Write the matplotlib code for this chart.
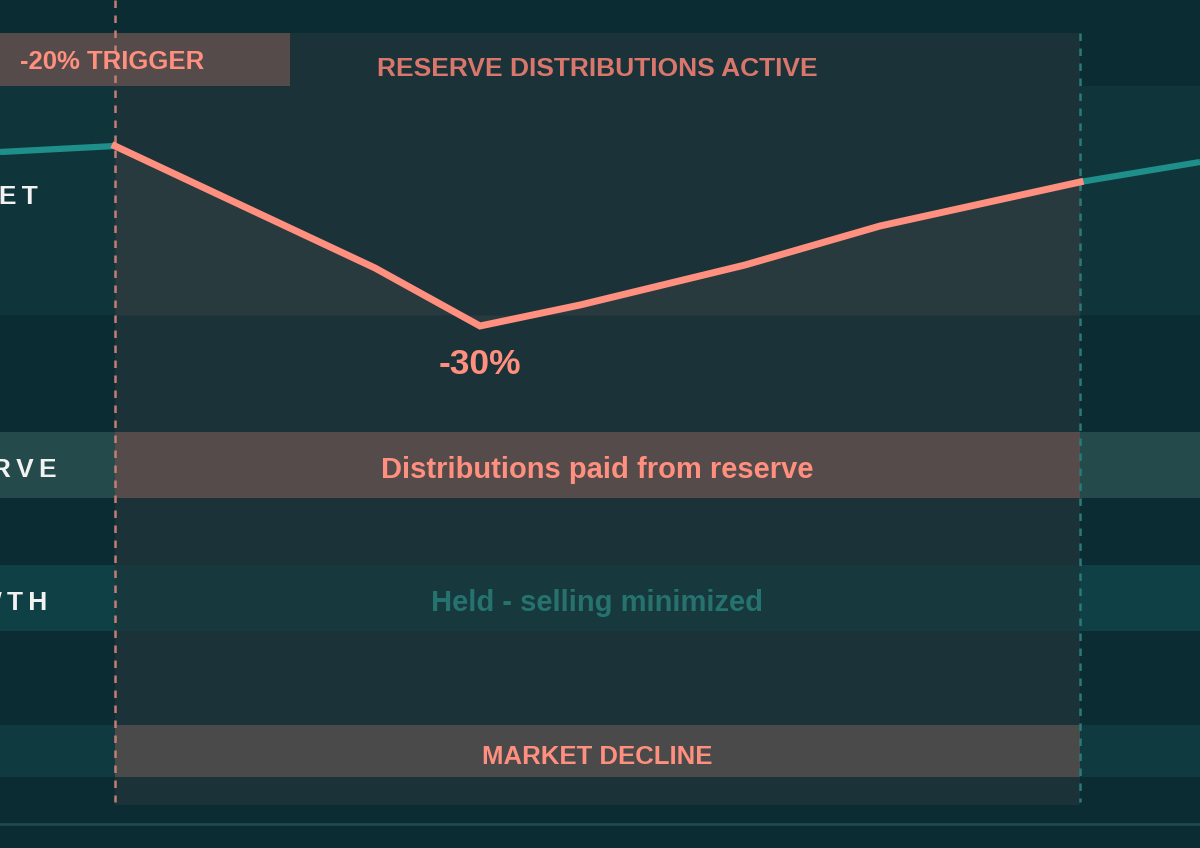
import matplotlib.pyplot as plt
from matplotlib.patches import Rectangle

# market path (x = timeline position, y = chart height position, screen units)
pre_x = [0, 115]
pre_y = [152, 146]
decline_x = [115, 375, 480, 580, 745, 880, 1080]
decline_y = [146, 268, 326, 305, 265, 226, 182]
post_x = [1080, 1200]
post_y = [182, 162]

trigger_label = "-20% TRIGGER"
phase_label = "RESERVE DISTRIBUTIONS ACTIVE"
trough_label = "-30%"
row_labels = ["MARKET", "RESERVE", "GROWTH"]
reserve_text = "Distributions paid from reserve"
growth_text = "Held - selling minimized"
decline_text = "MARKET DECLINE"

BG = "#0c2c33"
SALMON = "#ff8f7e"
TEAL = "#1f8f8a"

fig = plt.figure(figsize=(12, 8.48), dpi=100, facecolor=BG)
ax = fig.add_axes([0, 0, 1, 1])
ax.set_xlim(0, 1200)
ax.set_ylim(848, 0)
ax.axis("off")

def box(x0, y0, x1, y1, c, z=1):
    ax.add_patch(Rectangle((x0, y0), x1 - x0, y1 - y0, color=c, zorder=z, lw=0))

box(115, 33, 1080, 805, "#1a3238")
box(0, 86, 115, 315, "#0f353b")
box(1080, 86, 1200, 315, "#0f353b")
ax.fill_between(decline_x, decline_y, 315, color="#283a3e", zorder=2, lw=0)
box(0, 33, 290, 86, "#554b4a", 2)
box(0, 432, 115, 498, "#244a4c")
box(1080, 432, 1200, 498, "#244a4c")
box(115, 432, 1080, 498, "#554b4a", 2)
box(0, 565, 115, 631, "#0f4045")
box(1080, 565, 1200, 631, "#0f4045")
box(115, 565, 1080, 631, "#17393d", 2)
box(0, 725, 115, 777, "#0f3a40")
box(1080, 725, 1200, 777, "#0f3a40")
box(115, 725, 1080, 777, "#4b4a4a", 2)

ax.plot([115, 115], [0, 802], color="#c47d74", lw=1.8, ls=(0, (3, 3)), zorder=3)
ax.plot([1080, 1080], [33, 802], color="#2a7a7a", lw=1.8, ls=(0, (3, 3)), zorder=3)
ax.plot([0, 1200], [824, 824], color="#1f4a50", lw=2, zorder=3)

ax.plot(pre_x, pre_y, color=TEAL, lw=4.5, zorder=4, solid_capstyle="butt")
ax.plot(post_x, post_y, color=TEAL, lw=4.5, zorder=4, solid_capstyle="butt")
ax.plot(decline_x, decline_y, color=SALMON, lw=5, zorder=5, solid_joinstyle="miter")

f = dict(family="Liberation Sans", fontweight="bold", va="center", zorder=6)
ax.text(20, 62, trigger_label, color=SALMON, fontsize=18.5, ha="left", **f)
ax.text(597, 69, phase_label, color="#d9776c", fontsize=19, ha="center", **f)
ax.text(480, 365, trough_label, color=SALMON, fontsize=25.5, ha="center", **f)
ax.text(597, 470, reserve_text, color=SALMON, fontsize=21, ha="center", **f)
ax.text(597, 603, growth_text, color="#25726e", fontsize=21, ha="center", **f)
ax.text(597, 757, decline_text, color=SALMON, fontsize=18.5, ha="center", **f)
# spaced-out row labels, clipped at the left edge as in the original layout
for lab, xr, y in zip(row_labels, [38, 57, 47], [197, 470, 603]):
    ax.text(xr, y, "\u2009".join(lab), color="#f2f2f2", fontsize=19, ha="right", **f)

fig.savefig("out.png", dpi=100, facecolor=BG)
